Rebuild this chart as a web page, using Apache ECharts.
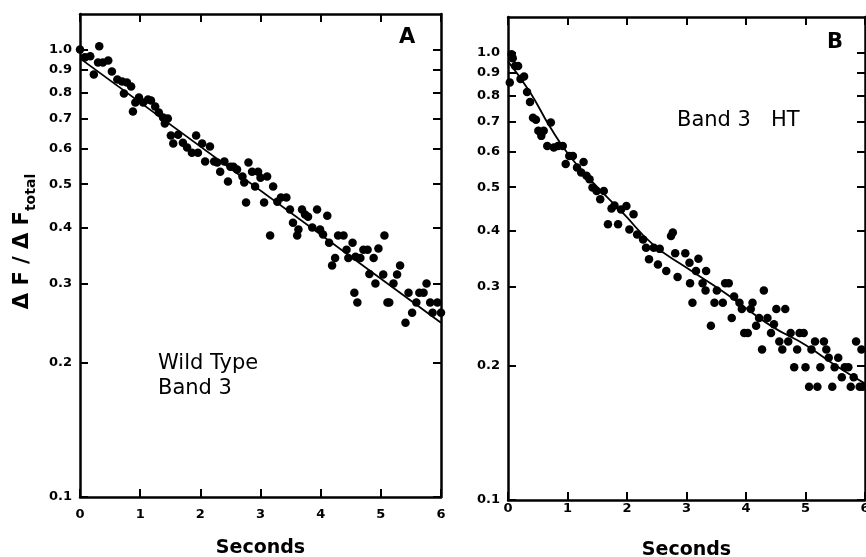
<!DOCTYPE html>
<html><head><meta charset="utf-8">
<script src="https://cdn.jsdelivr.net/npm/echarts@6/dist/echarts.min.js"></script>
<style>html,body{margin:0;padding:0;background:#fff}#c{width:866px;height:557px}</style>
</head><body><div id="c"></div><script>
// ---- data ----
const secondsTicks = [0, 1, 2, 3, 4, 5, 6];
const ratioTicks = [0.1, 0.2, 0.3, 0.4, 0.5, 0.6, 0.7, 0.8, 0.9, 1.0];

// Panel A: Wild Type Band 3 (seconds, ΔF/ΔFtotal)
const wildTypeData = [
 [0.00,1.00],[0.08,0.960],[0.17,0.965],[0.23,0.879],[0.32,1.016],[0.30,0.935],[0.38,0.935],[0.47,0.945],
 [0.53,0.893],[0.62,0.857],[0.70,0.848],[0.73,0.797],[0.78,0.844],[0.85,0.826],[0.88,0.727],[0.92,0.761],
 [0.98,0.781],[1.05,0.761],[1.13,0.773],[1.18,0.769],[1.25,0.746],[1.31,0.723],[1.38,0.705],[1.41,0.683],
 [1.46,0.701],[1.51,0.642],[1.55,0.616],[1.63,0.645],[1.71,0.619],[1.78,0.604],[1.86,0.588],[1.93,0.642],
 [1.96,0.588],[2.03,0.616],[2.08,0.562],[2.16,0.607],[2.23,0.562],[2.28,0.559],[2.33,0.533],[2.40,0.562],
 [2.46,0.507],[2.50,0.547],[2.55,0.547],[2.61,0.539],[2.70,0.520],[2.73,0.504],[2.76,0.455],[2.80,0.559],
 [2.86,0.533],[2.91,0.494],[2.96,0.533],[3.00,0.517],[3.06,0.455],[3.11,0.520],[3.16,0.384],[3.21,0.494],
 [3.28,0.457],[3.34,0.467],[3.43,0.467],[3.49,0.439],[3.54,0.410],[3.61,0.384],[3.63,0.396],[3.69,0.439],
 [3.74,0.428],[3.79,0.423],[3.86,0.400],[3.94,0.439],[3.99,0.396],[4.04,0.386],[4.11,0.425],[4.14,0.370],
 [4.19,0.329],[4.24,0.342],[4.29,0.384],[4.38,0.384],[4.43,0.357],[4.46,0.342],[4.53,0.370],[4.58,0.344],
 [4.66,0.342],[4.71,0.357],[4.78,0.357],[4.81,0.315],[4.88,0.342],[4.96,0.359],[5.04,0.314],[5.06,0.384],
 [5.27,0.314],[5.32,0.329],[4.56,0.286],[4.61,0.272],[4.91,0.300],[5.11,0.272],[5.14,0.272],[5.21,0.300],
 [5.41,0.245],[5.46,0.286],[5.52,0.258],[5.59,0.272],[5.64,0.286],[5.71,0.286],[5.76,0.300],[5.82,0.272],
 [5.86,0.258],[5.94,0.272],[6.00,0.258]
];
const wildTypeFit = [[0, 0.955], [6, 0.245]];

// Panel B: Band 3 HT
const htData = [
 [0.03,0.857],[0.06,0.991],[0.08,0.970],[0.12,0.933],[0.17,0.933],[0.21,0.872],[0.27,0.884],[0.32,0.816],
 [0.37,0.775],[0.42,0.715],[0.47,0.707],[0.51,0.668],[0.56,0.651],[0.60,0.668],[0.66,0.618],[0.72,0.697],
 [0.77,0.613],[0.84,0.618],[0.92,0.618],[0.97,0.563],[1.03,0.587],[1.09,0.587],[1.16,0.553],[1.23,0.539],
 [1.27,0.569],[1.32,0.530],[1.37,0.521],[1.42,0.499],[1.49,0.490],[1.55,0.470],[1.61,0.490],[1.68,0.413],
 [1.74,0.448],[1.79,0.455],[1.85,0.413],[1.90,0.446],[1.99,0.454],[2.04,0.402],[2.11,0.435],[2.17,0.392],
 [2.27,0.382],[2.32,0.366],[2.37,0.345],[2.45,0.366],[2.52,0.336],[2.55,0.364],[2.74,0.389],[2.77,0.396],
 [2.81,0.356],[2.98,0.356],[3.05,0.339],[3.20,0.346],[2.66,0.325],[2.85,0.315],[3.06,0.305],[3.16,0.325],
 [3.10,0.276],[3.27,0.305],[3.33,0.325],[3.32,0.294],[3.41,0.245],[3.47,0.276],[3.51,0.294],[3.61,0.276],
 [3.65,0.305],[3.71,0.305],[3.76,0.255],[3.80,0.285],[3.89,0.276],[3.93,0.267],[3.97,0.236],[4.03,0.236],
 [4.08,0.267],[4.11,0.276],[4.17,0.245],[4.22,0.255],[4.27,0.217],[4.30,0.294],[4.36,0.255],[4.42,0.236],
 [4.47,0.247],[4.51,0.267],[4.56,0.226],[4.61,0.217],[4.66,0.267],[4.71,0.226],[4.75,0.236],[4.81,0.198],
 [4.86,0.217],[4.90,0.236],[4.97,0.236],[5.00,0.198],[5.06,0.179],[5.10,0.217],[5.16,0.226],[5.20,0.179],
 [5.25,0.198],[5.31,0.226],[5.35,0.217],[5.39,0.208],[5.45,0.179],[5.49,0.198],[5.55,0.208],[5.61,0.188],
 [5.66,0.198],[5.72,0.198],[5.76,0.179],[5.81,0.188],[5.85,0.226],[5.91,0.179],[5.94,0.217],[5.96,0.179]
];
const htFit = [
 [0.0,0.955],[0.37,0.815],[0.70,0.684],[1.04,0.586],[1.49,0.502],[1.93,0.438],[2.43,0.373],
 [2.99,0.331],[3.55,0.296],[3.89,0.275],[4.44,0.244],[5.0,0.222],[5.5,0.200],[6.0,0.182]
];

// ---- chart ----
const FONT = 'DejaVu Sans';
const black = '#000';
const lineStyle = { color: black, width: 2.5 };
const tickStyle = { color: black, width: 2 };
const tickLabel = { color: black, fontFamily: FONT, fontWeight: 'bold', fontSize: 13, margin: 8 };

function xAxes(grid, gap, labelMargin) {
  return [
    { gridIndex: grid, type: 'value', min: secondsTicks[0], max: secondsTicks[secondsTicks.length - 1], interval: 1,
      position: 'bottom', axisLine: { show: true, onZero: false, lineStyle },
      axisTick: { show: true, inside: true, length: 8, lineStyle: tickStyle },
      axisLabel: Object.assign({}, tickLabel, { margin: labelMargin, showMaxLabel: true, showMinLabel: true }),
      splitLine: { show: false },
      name: 'Seconds', nameLocation: 'middle', nameGap: gap,
      nameTextStyle: { color: black, fontFamily: FONT, fontWeight: 'bold', fontSize: 19 } },
    { gridIndex: grid, type: 'value', min: secondsTicks[0], max: secondsTicks[secondsTicks.length - 1], interval: 1,
      position: 'top', axisLine: { show: true, onZero: false, lineStyle },
      axisTick: { show: true, inside: true, length: 8, lineStyle: tickStyle },
      axisLabel: { show: false }, splitLine: { show: false } }
  ];
}
function yAxes(grid, withName) {
  const left = {
    gridIndex: grid, type: 'log', logBase: 10, min: 0.1, max: 1.2, position: 'left',
    axisLine: { show: true, onZero: false, lineStyle },
    axisTick: { show: true, inside: true, length: 8, lineStyle: tickStyle, customValues: ratioTicks },
    axisLabel: Object.assign({}, tickLabel, { customValues: ratioTicks, formatter: v => Number(v).toFixed(1) }),
    splitLine: { show: false }, minorTick: { show: false }
  };
  if (withName) {
    Object.assign(left, {
      name: '{m|Δ F / Δ F}{s|total}', nameLocation: 'middle', nameRotate: 90, nameGap: 42,
      nameTextStyle: {
        padding: [0, 0, 0, 28],
        rich: {
          m: { fontFamily: FONT, fontWeight: 'bold', fontSize: 21, color: black, lineHeight: 30 },
          s: { fontFamily: FONT, fontWeight: 'bold', fontSize: 14, color: black, lineHeight: 14, verticalAlign: 'bottom' }
        }
      }
    });
  }
  const right = {
    gridIndex: grid, type: 'log', logBase: 10, min: 0.1, max: 1.2, position: 'right',
    axisLine: { show: true, onZero: false, lineStyle },
    axisTick: { show: true, inside: true, length: 8, lineStyle: tickStyle, customValues: ratioTicks },
    axisLabel: { show: false }, splitLine: { show: false }, minorTick: { show: false }
  };
  return [left, right];
}

const chart = echarts.init(document.getElementById('c'), null, { renderer: 'canvas' });
chart.setOption({
  animation: false,
  backgroundColor: '#fff',
  grid: [
    { left: 80, top: 14, width: 361, height: 483, outerBoundsMode: 'none', containLabel: false },
    { left: 508, top: 17, width: 357, height: 483, outerBoundsMode: 'none', containLabel: false }
  ],
  xAxis: [].concat(xAxes(0, 42, 11), xAxes(1, 41, 2)),
  yAxis: [].concat(yAxes(0, true), yAxes(1, false)),
  series: [
    { type: 'scatter', xAxisIndex: 0, yAxisIndex: 0, data: wildTypeData, symbolSize: 8.5, clip: false,
      itemStyle: { color: black, opacity: 1 } },
    { type: 'line', xAxisIndex: 0, yAxisIndex: 0, data: wildTypeFit, showSymbol: false, clip: false,
      lineStyle: { color: black, width: 1.8 } },
    { type: 'scatter', xAxisIndex: 2, yAxisIndex: 2, data: htData, symbolSize: 8.5, clip: false,
      itemStyle: { color: black, opacity: 1 } },
    { type: 'line', xAxisIndex: 2, yAxisIndex: 2, data: htFit, smooth: true, showSymbol: false, clip: false,
      lineStyle: { color: black, width: 1.8 } }
  ],
  graphic: [
    { type: 'text', left: 399, top: 27, style: { text: 'A', font: 'bold 21px "DejaVu Sans"', fill: black } },
    { type: 'text', left: 827, top: 32, style: { text: 'B', font: 'bold 21px "DejaVu Sans"', fill: black } },
    { type: 'text', left: 158, top: 351, style: { text: 'Wild Type\nBand 3', font: '21px "DejaVu Sans"', lineHeight: 25, fill: black } },
    { type: 'text', left: 677, top: 110, style: { text: 'Band 3   HT', font: '21px "DejaVu Sans"', fill: black } }
  ]
});
</script></body></html>
